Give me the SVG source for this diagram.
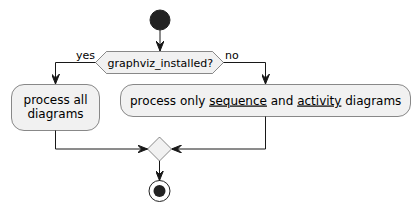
<svg xmlns="http://www.w3.org/2000/svg" width="420" height="213" viewBox="0 0 420 213">
<style>
.node{fill:#F1F1F1;stroke:#181818;stroke-width:0.5}
.t12{font-family:"DejaVu Sans",sans-serif;font-size:12px;fill:#000}
.t11{font-family:"DejaVu Sans",sans-serif;font-size:11px;fill:#000}
.line{fill:none;stroke:#181818;stroke-width:1}
.u{text-decoration:underline}
</style>
<defs>
<marker id="ah" viewBox="0 0 10 8" refX="10" refY="4" markerWidth="10" markerHeight="8" markerUnits="userSpaceOnUse" orient="auto">
<path d="M0,0 L10,4 L0,8 L4,4 Z" fill="#181818" stroke="#181818" stroke-width="1"/>
</marker>
</defs>
<g id="start"><circle cx="160" cy="20" r="10" fill="#222222" stroke="#222222"/></g>
<g id="decision">
<polygon class="node" points="95.5,62.5 106.5,51.5 212.5,51.5 223.5,62.5 212.5,73.5 106.5,73.5"/>
<text class="t11" x="107.5" y="66.5">graphviz_installed?</text>
</g>
<g id="all">
<rect class="node" x="11.5" y="84.5" width="88" height="46" rx="12.5" ry="12.5"/>
<text class="t12" x="55.5" y="104" text-anchor="middle">process all</text>
<text class="t12" x="55.5" y="118" text-anchor="middle">diagrams</text>
</g>
<g id="only">
<rect class="node" x="120.5" y="84.5" width="290" height="32" rx="12.5" ry="12.5"/>
<text class="t12" x="130" y="104.5">process only <tspan class="u">sequence</tspan> and <tspan class="u">activity</tspan> diagrams</text>
</g>
<g id="merge"><polygon class="node" points="159.5,137 171.5,149 159.5,161 147.5,149"/></g>
<g id="end">
<circle cx="159.5" cy="191" r="10.5" fill="none" stroke="#222222" stroke-width="1"/>
<circle cx="159.5" cy="191" r="6" fill="#222222"/>
</g>
<g id="connectors">
<path class="line" d="M160,30 L160,51" marker-end="url(#ah)"/>
<path class="line" d="M95.5,62.5 L55.5,62.5 L55.5,84" marker-end="url(#ah)"/>
<path class="line" d="M223.5,62.5 L265.5,62.5 L265.5,84" marker-end="url(#ah)"/>
<path class="line" d="M55.5,130.5 L55.5,149 L147.5,149" marker-end="url(#ah)"/>
<path class="line" d="M265.5,116.5 L265.5,149 L171.5,149" marker-end="url(#ah)"/>
<path class="line" d="M159.5,161 L159.5,180.5" marker-end="url(#ah)"/>
<text class="t11" x="76" y="58.5">yes</text>
<text class="t11" x="225" y="58.5">no</text>
</g>
</svg>
